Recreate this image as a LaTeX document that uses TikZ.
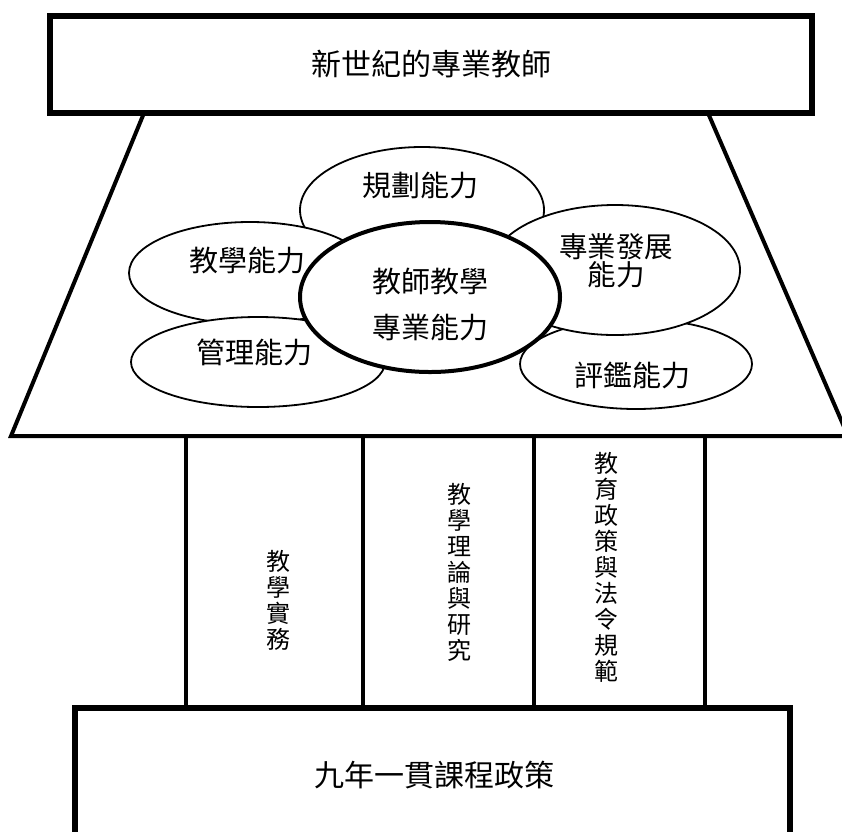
\documentclass[tikz,border=0pt]{standalone}
\usepackage{fontspec}
\newfontfamily\cjk{Noto Sans CJK TC}
\usetikzlibrary{shapes.geometric}
\begin{document}
\begin{tikzpicture}[x=1pt,y=-1pt,
  every node/.style={font=\cjk},
  boxframe/.style={draw,line width=6pt,fill=white,inner sep=0pt},
  heavy/.style={line width=4pt},
  ellbox/.style={ellipse,draw,line width=1.8pt,fill=white,inner sep=0pt},
  coreell/.style={ellipse,draw,line width=4pt,fill=white,inner sep=0pt},
  pillar/.style={draw,line width=4pt,inner sep=0pt},
  bigtext/.style={font=\cjk\fontsize{30}{32}\selectfont},
  elltext/.style={font=\cjk\fontsize{29}{29}\selectfont,align=center},
  vtext/.style={font=\cjk\fontsize{24}{26}\selectfont,align=center}
]
\useasboundingbox (0,0) rectangle (842,831);
\fill[white] (0,0) rectangle (842,831);
\begin{scope}
\clip (0,0) rectangle (842,831);
% trapezoid
\coordinate (tl) at (144,113);
\coordinate (tr) at (708,113);
\coordinate (bl) at (11,436);
\coordinate (br) at (848,436);
\draw[heavy,line join=miter] (tl) -- (bl) -- (br) -- (tr);
% top box
\node[boxframe,minimum width=762pt,minimum height=97pt] (top) at (431,64.5) {};
\node[bigtext] (toptext) at (431,64) {新世紀的專業教師};
% ellipses
\node[ellbox,minimum width=244pt,minimum height=126pt] (plan) at (422,210) {};
\node[ellbox,minimum width=232pt,minimum height=90pt] (eval) at (636,364) {};
\node[ellbox,minimum width=242pt,minimum height=102pt] (teach) at (250,273) {};
\node[ellbox,minimum width=254pt,minimum height=90pt] (manage) at (258,362) {};
\node[ellbox,minimum width=250pt,minimum height=130pt] (prof) at (615,270) {};
\node[coreell,minimum width=260pt,minimum height=150pt] (core) at (430,297) {};
\node[elltext] (planT) at (420,186) {規劃能力};
\node[elltext] (evalT) at (632,375) {評鑑能力};
\node[elltext] (teachT) at (247,261) {教學能力};
\node[elltext] (manageT) at (254,352) {管理能力};
\node[elltext,font=\cjk\fontsize{28.5}{28}\selectfont] (profT) at (616,261) {專業發展\\能力};
\node[elltext,font=\cjk\fontsize{29}{46}\selectfont] (coreT) at (430,305) {教師教學\\專業能力};
% pillars
\node[pillar,minimum width=177pt,minimum height=272pt] (p1) at (274.5,572) {};
\node[pillar,minimum width=171pt,minimum height=272pt] (p2) at (448.5,572) {};
\node[pillar,minimum width=171pt,minimum height=272pt] (p3) at (619.5,572) {};
\node[vtext] (p1T) at (278,600) {教\\學\\實\\務};
\node[vtext] (p2T) at (459,572) {教\\學\\理\\論\\與\\研\\究};
\node[vtext] (p3T) at (606,567) {教\\育\\政\\策\\與\\法\\令\\規\\範};
% bottom box
\node[boxframe,minimum width=715pt,minimum height=192pt] (bot) at (432.5,804) {};
\node[bigtext] (bottext) at (434,775) {九年一貫課程政策};
\end{scope}
\end{tikzpicture}
\end{document}
